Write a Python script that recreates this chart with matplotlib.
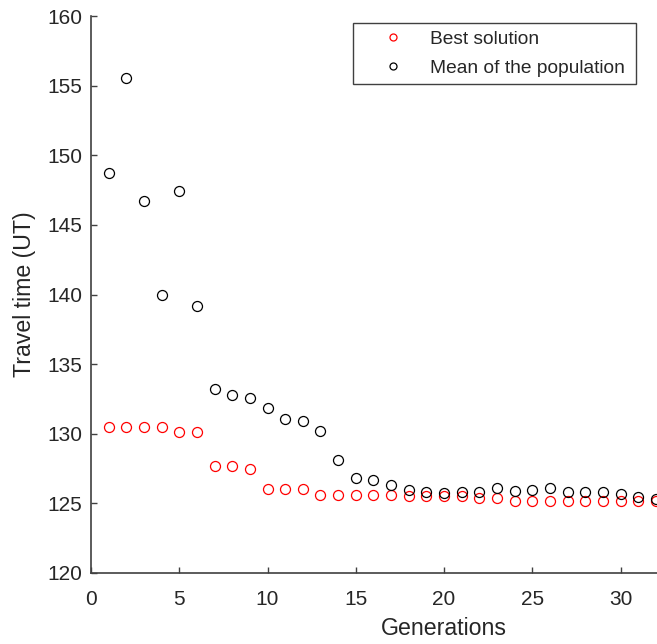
import matplotlib
matplotlib.use("Agg")
import matplotlib.pyplot as plt

plt.rcParams["font.family"] = ["Liberation Sans", "DejaVu Sans"]

generations = list(range(1, 33))

best_solution = [
    130.45, 130.45, 130.45, 130.45, 130.15, 130.15, 127.7, 127.7,
    127.45, 126.05, 126.05, 126.05, 125.6, 125.6, 125.6, 125.6,
    125.6, 125.55, 125.55, 125.5, 125.5, 125.4, 125.4, 125.2,
    125.2, 125.2, 125.2, 125.2, 125.2, 125.2, 125.2, 125.2,
]

population_mean = [
    148.7, 155.55, 146.7, 139.95, 147.4, 139.15, 133.2, 132.8,
    132.6, 131.85, 131.05, 130.9, 130.2, 128.15, 126.8, 126.65,
    126.3, 125.95, 125.8, 125.75, 125.85, 125.8, 126.1, 125.9,
    125.95, 126.1, 125.8, 125.8, 125.85, 125.65, 125.45, 125.35,
]

x_ticks = [0, 5, 10, 15, 20, 25, 30]
y_ticks = [120, 125, 130, 135, 140, 145, 150, 155, 160]

W, H = 657, 644
fig = plt.figure(figsize=(W / 100, H / 100), dpi=100)
ax = fig.add_axes([91 / W, 71 / H, 706 / W, 557 / H])

ax.plot(generations, best_solution, linestyle="none", marker="o",
        markersize=7.2, markerfacecolor="none", markeredgecolor="#ff0000",
        markeredgewidth=0.9, label="Best solution", clip_on=False)
ax.plot(generations, population_mean, linestyle="none", marker="o",
        markersize=7.2, markerfacecolor="none", markeredgecolor="#000000",
        markeredgewidth=0.9, label="Mean of the population", clip_on=False)

ax.set_xlim(0, 40)
ax.set_ylim(120, 160)
ax.set_xticks(x_ticks)
ax.set_yticks(y_ticks)

axis_color = "#404040"
text_color = "#262626"
for side in ("top", "right"):
    ax.spines[side].set_visible(False)
for side in ("left", "bottom"):
    ax.spines[side].set_color(axis_color)
    ax.spines[side].set_linewidth(1.2)

ax.tick_params(axis="both", direction="in", length=4.5, width=1.0,
               color=axis_color, labelcolor=text_color, labelsize=15)
ax.tick_params(axis="y", pad=6.5)
ax.tick_params(axis="x", pad=12.3)

ax.set_xlabel("Generations", fontsize=16.7, color=text_color, labelpad=6)
ax.set_ylabel("Travel time (UT)", fontsize=16.7, color=text_color, labelpad=8)

leg = ax.legend(loc="upper left", bbox_to_anchor=(353 / W, 1 - 24 / H, 283 / W, 0.001),
                bbox_transform=fig.transFigure, mode="expand", fontsize=13.8,
                frameon=True, fancybox=False, borderpad=0.38, borderaxespad=0,
                handlelength=3.4, handletextpad=0.25, labelspacing=0.6,
                markerscale=0.7)
frame = leg.get_frame()
frame.set_edgecolor(axis_color)
frame.set_linewidth(1.0)
frame.set_facecolor("white")
frame.set_alpha(1)
for t in leg.get_texts():
    t.set_color(text_color)

fig.savefig("out.png", dpi=100)
